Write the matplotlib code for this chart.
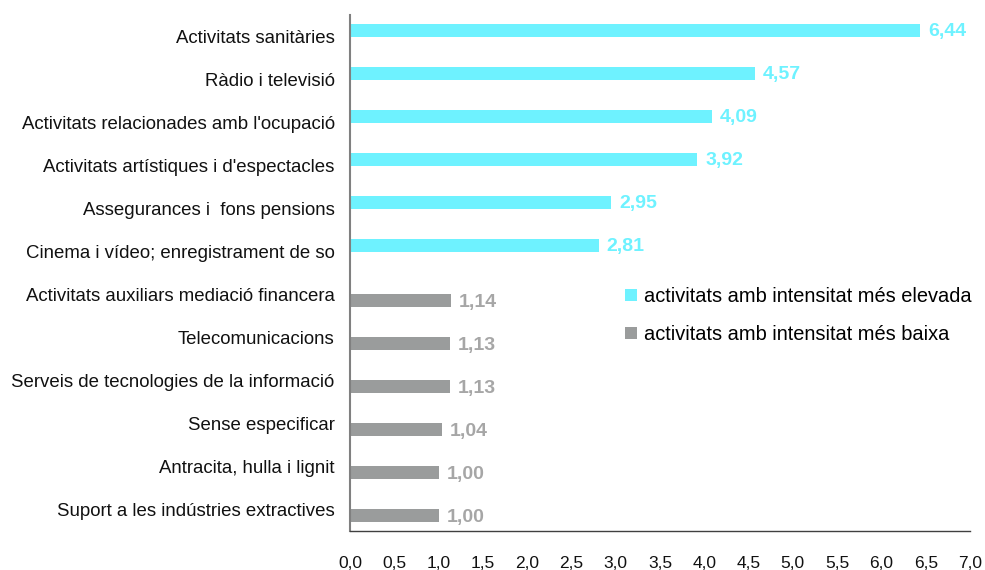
import matplotlib
matplotlib.use("Agg")
import matplotlib.pyplot as plt
import numpy as np

plt.rcParams['font.family'] = ['Liberation Sans', 'DejaVu Sans']

categories = [
    "Activitats sanitàries",
    "Ràdio i televisió",
    "Activitats relacionades amb l'ocupació",
    "Activitats artístiques i d'espectacles",
    "Assegurances i  fons pensions",
    "Cinema i vídeo; enregistrament de so",
    "Activitats auxiliars mediació financera",
    "Telecomunicacions",
    "Serveis de tecnologies de la informació",
    "Sense especificar",
    "Antracita, hulla i lignit",
    "Suport a les indústries extractives",
]
high_values = [6.44, 4.57, 4.09, 3.92, 2.95, 2.81, None, None, None, None, None, None]
low_values = [None, None, None, None, None, None, 1.14, 1.13, 1.13, 1.04, 1.00, 1.00]
series_names = ["activitats amb intensitat més elevada", "activitats amb intensitat més baixa"]
xticks = [0, 0.5, 1, 1.5, 2, 2.5, 3, 3.5, 4, 4.5, 5, 5.5, 6, 6.5, 7]

c_high = "#6EF2FF"
c_low = "#9A9C9C"
c_high_lbl = "#6EF2FF"
c_low_lbl = "#A6A6A6"

fig = plt.figure(figsize=(9.85, 5.7), dpi=100)
ax = fig.add_axes([350/985, 1-531/570, 620/985, 516/570])

y = np.arange(len(categories))
h = 0.30
off = 0.145

def fmt(v):
    return f"{v:.2f}".replace(".", ",")

for i, v in enumerate(high_values):
    if v is not None:
        ax.barh(y[i] - off, v, height=h, color=c_high, label=series_names[0] if i == 0 else None)
        ax.text(v + 0.09, y[i] - off + 0.03, fmt(v), va="center", ha="left",
                fontsize=14, fontweight="bold", color=c_high_lbl)
first = True
for i, v in enumerate(low_values):
    if v is not None:
        ax.barh(y[i] + off, v, height=h, color=c_low, label=series_names[1] if first else None)
        first = False
        ax.text(v + 0.09, y[i] + off + 0.03, fmt(v), va="center", ha="left",
                fontsize=14, fontweight="bold", color=c_low_lbl)

ax.set_ylim(len(categories) - 0.5, -0.5)
ax.set_xlim(0, 7)
ax.set_yticks(y)
ax.set_yticklabels(categories, fontsize=13.4, color="#111111")
ax.set_xticks(xticks)
ax.set_xticklabels([f"{t:.1f}".replace(".", ",") for t in xticks], fontsize=12.5, color="#111111")
ax.tick_params(axis="both", length=0)
ax.tick_params(axis="x", pad=18)
ax.tick_params(axis="y", pad=11)

for s in ["top", "right"]:
    ax.spines[s].set_visible(False)
ax.spines["left"].set_color("#808080")
ax.spines["left"].set_linewidth(1.5)
ax.spines["bottom"].set_color("#404040")
ax.spines["bottom"].set_linewidth(1.0)

leg = ax.legend(loc="upper left", bbox_to_anchor=(267/620, 1 - 264/516), frameon=False,
                fontsize=14.4, handlelength=0.6, handleheight=0.6, handletextpad=0.35,
                labelspacing=0.95, borderaxespad=0)

fig.savefig("out.png", dpi=100)
